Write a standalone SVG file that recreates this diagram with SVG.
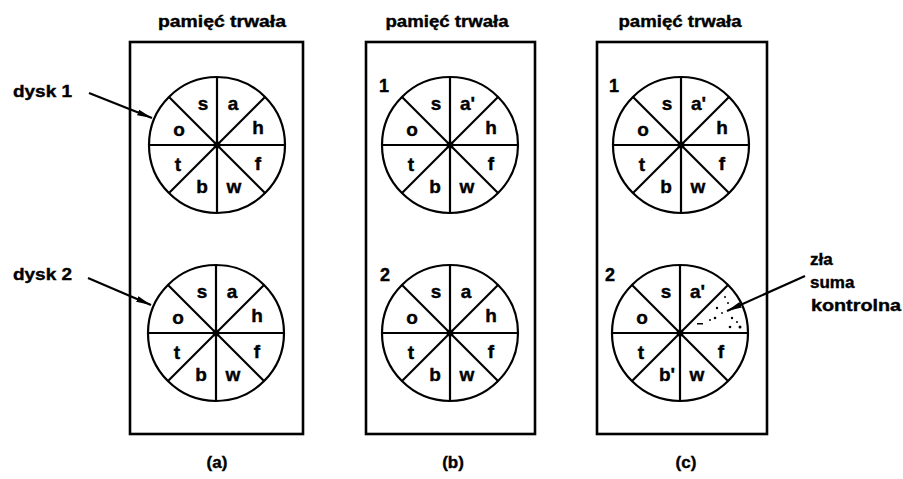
<svg xmlns="http://www.w3.org/2000/svg" xmlns:xlink="http://www.w3.org/1999/xlink" width="903" height="479" viewBox="0 0 903 479">
<style>
.box{fill:none;stroke:#000;stroke-width:2.6}
.ln{stroke:#000;stroke-width:2.2;fill:none}
text{stroke:#000;stroke-width:0.4}
.title{font-family:"Liberation Sans",Arial,sans-serif;font-weight:bold;font-size:17px;fill:#000;text-anchor:middle}
.lt{font-family:"Liberation Sans",Arial,sans-serif;font-weight:bold;font-size:19px;fill:#000;text-anchor:middle}
.lbl{font-family:"Liberation Sans",Arial,sans-serif;font-weight:bold;font-size:17px;fill:#000}
.num{font-family:"Liberation Sans",Arial,sans-serif;font-weight:bold;font-size:18px;fill:#000;text-anchor:middle}
.arr{stroke:#000;stroke-width:2.2;fill:none;marker-end:url(#ah)}
.sp{fill:#000}
</style>
<defs>
<marker id="ah" markerUnits="userSpaceOnUse" markerWidth="16" markerHeight="8" refX="15" refY="4" orient="auto">
<path d="M0,1 L15,4 L0,7 z" fill="#000"/>
</marker>
<g id="disk">
<circle cx="0" cy="0" r="68" class="ln"/>
<line x1="-68" y1="0" x2="68" y2="0" class="ln"/>
<line x1="0" y1="-68" x2="0" y2="68" class="ln"/>
<line x1="-48" y1="-48" x2="48" y2="48" class="ln"/>
<line x1="48" y1="-48" x2="-48" y2="48" class="ln"/>
<circle cx="0" cy="0" r="3.5" fill="#000"/>
</g>
</defs>
<rect width="903" height="479" fill="#fff"/>

<g id="panel-a">
<text class="title" x="222" y="27" textLength="128" lengthAdjust="spacingAndGlyphs">pamięć trwała</text>
<rect class="box" x="130" y="42" width="173" height="392"/>
<g id="a-disk1" transform="translate(217,145)">
<use xlink:href="#disk"/>
<text class="lt" x="-14" y="-35">s</text><text class="lt" x="16" y="-35">a</text>
<text class="lt" x="-38" y="-9">o</text><text class="lt" x="41" y="-11">h</text>
<text class="lt" x="-39" y="26">t</text><text class="lt" x="41" y="25">f</text>
<text class="lt" x="-15" y="48">b</text><text class="lt" x="17" y="48">w</text>
</g>
<g id="a-disk2" transform="translate(216,333)">
<use xlink:href="#disk"/>
<text class="lt" x="-14" y="-35">s</text><text class="lt" x="16" y="-35">a</text>
<text class="lt" x="-38" y="-9">o</text><text class="lt" x="41" y="-11">h</text>
<text class="lt" x="-39" y="26">t</text><text class="lt" x="41" y="25">f</text>
<text class="lt" x="-15" y="48">b</text><text class="lt" x="17" y="48">w</text>
</g>
<text class="lbl" x="13" y="97" textLength="59" lengthAdjust="spacingAndGlyphs">dysk 1</text>
<text class="lbl" x="13" y="280" textLength="59" lengthAdjust="spacingAndGlyphs">dysk 2</text>
<text class="title" x="217" y="468">(a)</text>
</g>

<g id="panel-b">
<text class="title" x="447" y="27" textLength="123" lengthAdjust="spacingAndGlyphs">pamięć trwała</text>
<rect class="box" x="366" y="42" width="169" height="392"/>
<text class="num" x="384" y="92">1</text>
<text class="num" x="385" y="281">2</text>
<g id="b-disk1" transform="translate(450,145)">
<use xlink:href="#disk"/>
<text class="lt" x="-14" y="-35">s</text><text class="lt" x="10" y="-35" style="text-anchor:start">a'</text>
<text class="lt" x="-38" y="-9">o</text><text class="lt" x="41" y="-11">h</text>
<text class="lt" x="-39" y="26">t</text><text class="lt" x="41" y="25">f</text>
<text class="lt" x="-15" y="48">b</text><text class="lt" x="17" y="48">w</text>
</g>
<g id="b-disk2" transform="translate(450,333)">
<use xlink:href="#disk"/>
<text class="lt" x="-14" y="-35">s</text><text class="lt" x="16" y="-35">a</text>
<text class="lt" x="-38" y="-9">o</text><text class="lt" x="41" y="-11">h</text>
<text class="lt" x="-39" y="26">t</text><text class="lt" x="41" y="25">f</text>
<text class="lt" x="-15" y="48">b</text><text class="lt" x="17" y="48">w</text>
</g>
<text class="title" x="453" y="468">(b)</text>
</g>

<g id="panel-c">
<text class="title" x="680" y="27" textLength="123" lengthAdjust="spacingAndGlyphs">pamięć trwała</text>
<rect class="box" x="597" y="42" width="170" height="392"/>
<text class="num" x="614" y="92">1</text>
<text class="num" x="610" y="281">2</text>
<g id="c-disk1" transform="translate(681,145)">
<use xlink:href="#disk"/>
<text class="lt" x="-14" y="-35">s</text><text class="lt" x="10" y="-35" style="text-anchor:start">a'</text>
<text class="lt" x="-38" y="-9">o</text><text class="lt" x="41" y="-11">h</text>
<text class="lt" x="-39" y="26">t</text><text class="lt" x="41" y="25">f</text>
<text class="lt" x="-15" y="48">b</text><text class="lt" x="17" y="48">w</text>
</g>
<g id="c-disk2" transform="translate(680,333)">
<use xlink:href="#disk"/>
<text class="lt" x="-14" y="-35">s</text><text class="lt" x="10" y="-35" style="text-anchor:start">a'</text>
<text class="lt" x="-38" y="-9">o</text>
<text class="lt" x="-39" y="26">t</text><text class="lt" x="41" y="25">f</text>
<text class="lt" x="-21" y="48" style="text-anchor:start">b'</text><text class="lt" x="17" y="48">w</text>
<g id="speckle">
<circle class="sp" cx="45" cy="-36" r="1"/>
<circle class="sp" cx="37" cy="-25" r="1.2"/>
<circle class="sp" cx="35" cy="-15" r="1.3"/>
<circle class="sp" cx="30" cy="-13" r="1"/>
<rect class="sp" x="17" y="-10" width="6" height="1.5"/>
<circle class="sp" cx="52" cy="-15" r="1.2"/>
<circle class="sp" cx="57" cy="-11" r="1"/>
<circle class="sp" cx="50" cy="-6" r="1.3"/>
<circle class="sp" cx="60" cy="-6" r="1.5"/>
<circle class="sp" cx="48" cy="-30" r="1"/>
<circle class="sp" cx="42" cy="-20" r="0.9"/>
</g>
</g>
<text class="lbl" x="810" y="265">zła</text>
<text class="lbl" x="810" y="288">suma</text>
<text class="lbl" x="811" y="311" textLength="90" lengthAdjust="spacingAndGlyphs">kontrolna</text>
<text class="title" x="686" y="468">(c)</text>
</g>

<g id="connectors">
<line class="arr" x1="89" y1="93" x2="152" y2="118"/>
<line class="arr" x1="88" y1="278" x2="151" y2="305"/>
<line class="arr" x1="805" y1="276" x2="727" y2="311"/>
</g>
</svg>
